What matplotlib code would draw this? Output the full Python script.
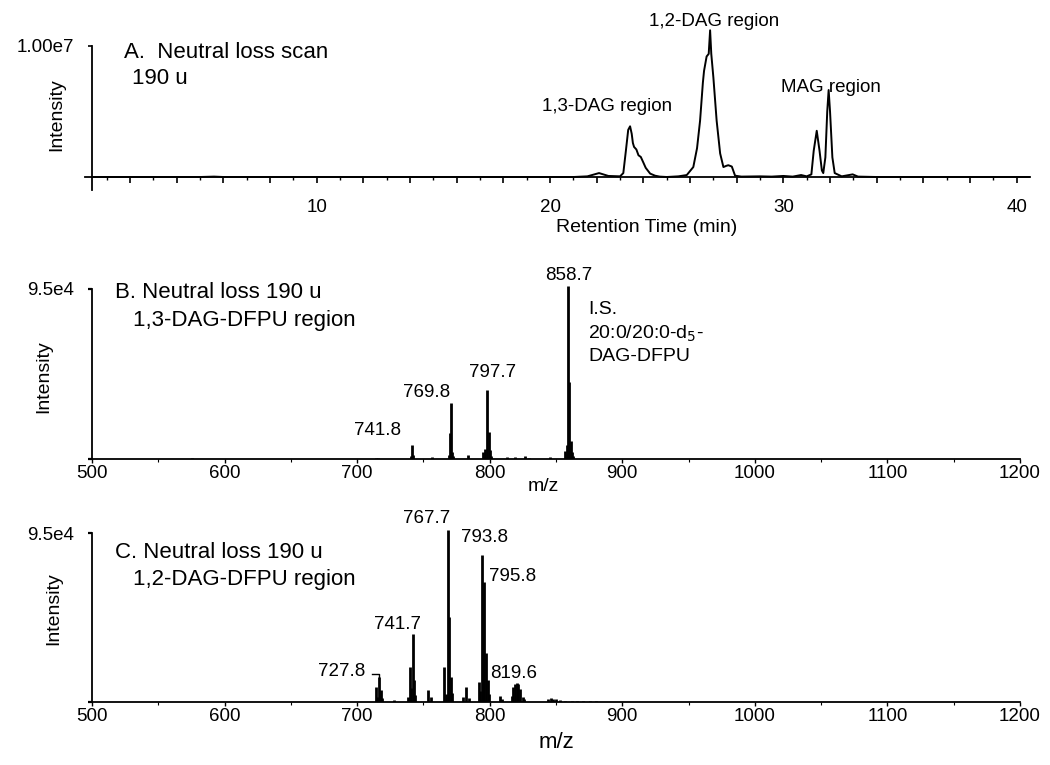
import numpy as np
import matplotlib.pyplot as plt
from matplotlib.ticker import MultipleLocator, FixedLocator, FuncFormatter

plt.rcParams['font.family'] = ['Liberation Sans', 'DejaVu Sans']

# A. neutral loss 190 u chromatogram (retention time in min, intensity in counts)
rt_min = [0.38, 5.0, 5.6, 6.0, 12.0, 18.0, 21.0, 21.6, 22.1, 22.5, 23.0, 23.14, 23.25, 23.35,
          23.43, 23.5, 23.55, 23.6, 23.7, 23.79, 23.89, 24.0, 24.1, 24.29, 24.5, 24.7,
          25.0, 25.5, 25.86, 26.14, 26.3, 26.43, 26.55, 26.6, 26.71, 26.8, 26.86, 26.91,
          27.0, 27.14, 27.29, 27.43, 27.55, 27.64, 27.79, 27.93, 28.2, 29.0, 29.5, 30.0,
          30.4, 30.76, 31.0, 31.2, 31.3, 31.43, 31.55, 31.65, 31.71, 31.8, 31.88, 31.94,
          32.0, 32.1, 32.2, 32.5, 32.97, 33.2, 34.0, 40.57]
nl_intensity = [0, 0, 30000, 0, 0, 0, 0, 50000, 300000, 80000, 50000, 300000, 2000000, 3600000,
                3870000, 3300000, 2600000, 2300000, 2100000, 1660000, 1530000, 1100000, 700000,
                260000, 100000, 30000, 0, 50000, 150000, 760000, 2200000, 4300000, 7200000,
                8100000, 9200000, 9400000, 11200000, 9400000, 7600000, 4300000, 1800000, 760000,
                850000, 900000, 800000, 100000, 30000, 50000, 30000, 80000, 30000, 150000, 50000,
                200000, 2000000, 3530000, 2000000, 500000, 300000, 1500000, 5000000, 6640000,
                5000000, 1500000, 300000, 50000, 200000, 30000, 0, 0]

# B. 1,3-DAG-DFPU region spectrum
mz_13 = [575.2, 714.2, 716.0, 740.8, 741.6, 742.3, 756.2, 769.4, 770.0, 770.6, 771.6, 772.3,
         783.9, 795.2, 796.4, 797.7, 799.2, 800.2, 801.0, 812.8, 819.0, 826.6, 830.0, 845.5,
         857.0, 858.2, 859.1, 860.1, 861.1, 861.9, 862.6]
int_13 = [500, 400, 300, 1500, 7900, 2500, 1300, 2500, 14500, 31300, 3700, 1500,
          2200, 3700, 5600, 38800, 15000, 5000, 1500, 1300, 1000, 1900, 800, 1000,
          4700, 8000, 96500, 43000, 10300, 4000, 1500]

# C. 1,2-DAG-DFPU region spectrum
mz_12 = [714.0, 714.8, 716.7, 717.8, 718.6, 728.0, 738.6, 739.9, 741.0, 741.9, 743.1, 744.0,
         753.7, 755.5, 765.8, 767.0, 768.3, 769.5, 770.6, 771.5, 780.0, 782.1, 784.0, 791.9,
         793.0, 794.2, 795.2, 795.9, 797.2, 798.5, 799.7, 807.8, 809.0, 816.6, 817.8, 819.1,
         820.3, 821.6, 822.8, 824.8, 826.0, 844.0, 846.0, 848.0, 850.0, 853.0, 857.0, 862.0,
         866.0, 870.0, 876.0, 880.0]
int_12 = [8450, 3000, 14100, 6600, 2500, 1300, 3000, 19700, 8000, 38500, 12200, 4000,
          7000, 3000, 19700, 4700, 96700, 47900, 14100, 5000, 3000, 8400, 2000, 11300,
          6000, 82600, 37000, 67600, 27300, 12200, 4700, 3200, 1500, 3500, 8400, 10300,
          10700, 10300, 7500, 2700, 1500, 1800, 2000, 1700, 1800, 1200, 800, 700,
          600, 500, 400, 300]

W, H = 1050, 765
fig = plt.figure(figsize=(W / 100, H / 100), dpi=100)


def box(l, t, r, b):
    return [l / W, 1 - b / H, (r - l) / W, (b - t) / H]


def fxy(x, y):
    return x / W, 1 - y / H


def clean(ax):
    ax.spines['top'].set_visible(False)
    ax.spines['right'].set_visible(False)
    for s in ('left', 'bottom'):
        ax.spines[s].set_linewidth(1.3)
    ax.patch.set_alpha(0)


# ---- panel A ----
axA = fig.add_axes(box(85, 25, 1030, 190))
clean(axA)
axA.plot(rt_min, nl_intensity, color='black', lw=1.4)
axA.set_xlim(0.069, 40.57)
axA.set_ylim(-0.0992e7, 1.1603e7)
axA.spines['left'].set_position(('data', 0.383))
axA.spines['left'].set_bounds(-0.0992e7, 1e7)
axA.spines['bottom'].set_position(('data', 0))
axA.xaxis.set_major_locator(MultipleLocator(2))
axA.xaxis.set_minor_locator(MultipleLocator(1))
axA.xaxis.set_major_formatter(FuncFormatter(lambda v, p: f"{v:.0f}" if v % 10 == 0 and v > 0 else ""))
axA.yaxis.set_major_locator(FixedLocator([1e7]))
axA.set_yticklabels(["1.00e7"])
axA.tick_params(axis='x', which='major', length=4, width=1.2, pad=12, labelsize=13.5)
axA.tick_params(axis='x', which='minor', length=2.5, width=1.0)
axA.tick_params(axis='y', length=3, width=1.2, pad=10, labelsize=13.5)

fig.text(*fxy(57, 115), "Intensity", rotation=90, ha='center', va='center', fontsize=14)
fig.text(*fxy(647, 227), "Retention Time (min)", ha='center', va='center', fontsize=14)
fig.text(*fxy(124, 52), "A.  Neutral loss scan", ha='left', va='center', fontsize=16)
fig.text(*fxy(132, 78), "190 u", ha='left', va='center', fontsize=16)
axA.text(22.43, 0.537e7, "1,3-DAG region", ha='center', va='center', fontsize=13.5)
axA.text(27.03, 1.19e7, "1,2-DAG region", ha='center', va='center', fontsize=13.5)
axA.text(32.05, 0.68e7, "MAG region", ha='center', va='center', fontsize=13.5)


def spectrum_axes(t, b, top):
    ax = fig.add_axes(box(92, t, 1020, b))
    clean(ax)
    ax.set_xlim(500, 1200)
    ax.set_ylim(0, top)
    ax.spines['left'].set_bounds(0, 9.5e4)
    ax.xaxis.set_major_locator(MultipleLocator(100))
    ax.xaxis.set_minor_locator(MultipleLocator(50))
    ax.yaxis.set_major_locator(FixedLocator([0, 9.5e4]))
    ax.set_yticklabels(["", "9.5e4"])
    ax.tick_params(axis='x', which='major', length=3, width=1.0, pad=1, labelsize=13.5)
    ax.tick_params(axis='x', which='minor', length=2, width=0.8)
    ax.tick_params(axis='y', length=3, width=1.6, pad=10, labelsize=13.5)
    return ax


# ---- panel B ----
axB = spectrum_axes(270, 459, 1.056e5)
axB.vlines(mz_13, 0, int_13, color='black', lw=2.0)
fig.text(*fxy(44, 377), "Intensity", rotation=90, ha='center', va='center', fontsize=14)
fig.text(*fxy(543, 487), "m/z", ha='center', va='center', fontsize=14)
fig.text(*fxy(115, 293), "B. Neutral loss 190 u", ha='left', va='center', fontsize=16)
fig.text(*fxy(133, 320), "1,3-DAG-DFPU region", ha='left', va='center', fontsize=16)
axB.text(859.8, 1.028e5, "858.7", ha='center', va='center', fontsize=13.5)
axB.text(802.5, 4.86e4, "797.7", ha='center', va='center', fontsize=13.5)
axB.text(752.7, 3.74e4, "769.8", ha='center', va='center', fontsize=13.5)
axB.text(715.7, 1.62e4, "741.8", ha='center', va='center', fontsize=13.5)
axB.text(874.1, 8.33e4, "I.S.", ha='left', va='center', fontsize=14)
axB.text(874.1, 6.98e4, "20:0/20:0-d$_5$-", ha='left', va='center', fontsize=14)
axB.text(874.1, 5.70e4, "DAG-DFPU", ha='left', va='center', fontsize=14)

# ---- panel C ----
axC = spectrum_axes(510, 702, 1.0793e5)
axC.vlines(mz_12, 0, int_12, color='black', lw=2.0)
fig.text(*fxy(54, 609), "Intensity", rotation=90, ha='center', va='center', fontsize=14)
fig.text(*fxy(556, 742), "m/z", ha='center', va='center', fontsize=16)
fig.text(*fxy(115, 553), "C. Neutral loss 190 u", ha='left', va='center', fontsize=16)
fig.text(*fxy(133, 580), "1,2-DAG-DFPU region", ha='left', va='center', fontsize=16)
axC.text(752.7, 1.034e5, "767.7", ha='center', va='center', fontsize=13.5)
axC.text(795.7, 9.22e4, "793.8", ha='center', va='center', fontsize=13.5)
axC.text(817.6, 7.03e4, "795.8", ha='center', va='center', fontsize=13.5)
axC.text(730.8, 4.33e4, "741.7", ha='center', va='center', fontsize=13.5)
axC.text(705.9, 1.69e4, "727.8", ha='right', va='center', fontsize=13.5)
axC.text(818.3, 1.63e4, "819.6", ha='center', va='center', fontsize=13.5)
axC.plot([711.0, 716.7, 716.7], [1.57e4, 1.57e4, 1.42e4], color='black', lw=1.0)

fig.savefig("out.png", dpi=100)
